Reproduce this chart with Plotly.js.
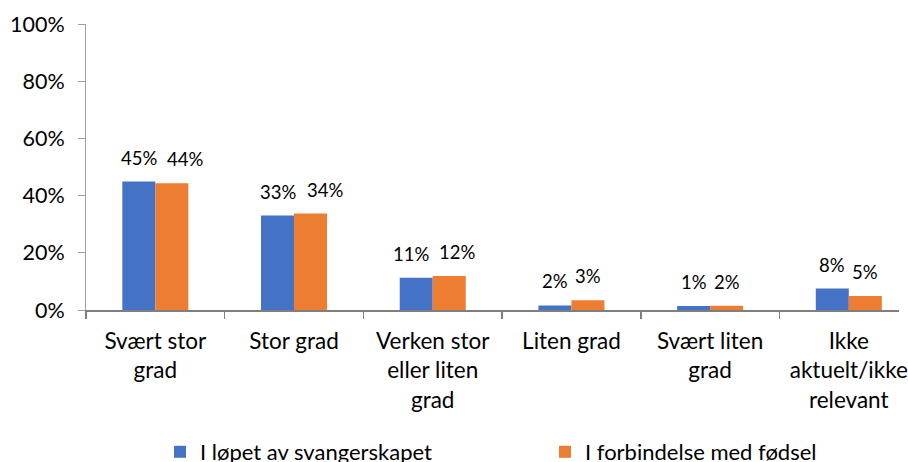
<!DOCTYPE html>
<html><head><meta charset="utf-8">
<script src="https://cdn.plot.ly/plotly-3.0.1.min.js"></script>
<style>html,body{margin:0;padding:0;background:#fff}#chart{width:908px;height:462px}</style>
</head><body><div id="chart"></div>
<script>
const categories = ["Svært stor<br>grad", "Stor grad", "Verken stor<br>eller liten<br>grad", "Liten grad", "Svært liten<br>grad", "Ikke<br>aktuelt/ikke<br>relevant"];
const seriesNames = ["I løpet av svangerskapet", "I forbindelse med fødsel"];
const pregnancy = [44.9, 33.0, 11.3, 1.6, 1.4, 7.5];
const birth = [44.3, 33.7, 11.9, 3.4, 1.5, 4.9];
const yTickVals = [0, 20, 40, 60, 80, 100];
const yTickText = ["0%", "20%", "40%", "60%", "80%", "100%"];
// label nudges (px) as in the original, where some labels sit off-centre
const pregLabelNudge = [0, 0, -5, 0, 0, 0];
const birthLabelNudge = [13, 14, 8, 0, 0, 0];

const colors = ["#4472C4", "#ED7D31"];
const font = "Lato, 'Open Sans', sans-serif";
const bargap = 0.524;
const bw = (1 - bargap) / 2;

const traces = [pregnancy, birth].map((vals, k) => ({
  type: "bar", name: seriesNames[k], x: categories, y: vals,
  marker: {color: colors[k], line: {width: 0}}, hoverinfo: "skip"
}));

const annotations = [];
[pregnancy, birth].forEach((vals, k) => {
  const nudge = k === 0 ? pregLabelNudge : birthLabelNudge;
  vals.forEach((v, i) => {
    annotations.push({
      x: i + (k === 0 ? -bw / 2 : bw / 2), y: v, xref: "x", yref: "y",
      text: Math.round(v) + "%", showarrow: false,
      xanchor: "center", yanchor: "middle", yshift: 24, xshift: nudge[i],
      font: {family: font, size: 18.5, color: "#000"}
    });
  });
});

const layout = {
  width: 908, height: 462,
  margin: {l: 86, r: 9, t: 24, b: 152, autoexpand: false},
  paper_bgcolor: "#fff", plot_bgcolor: "#fff",
  barmode: "group", bargap: bargap, bargroupgap: 0,
  font: {family: font, color: "#000"},
  xaxis: {
    type: "category", range: [-0.5, 5.362], fixedrange: true,
    showline: true, linecolor: "#7f7f7f", linewidth: 2,
    ticks: "outside", tickson: "boundaries", ticklen: 7, tickcolor: "#7f7f7f", tickwidth: 1.5,
    tickfont: {family: font, size: 22.5, color: "#000"}, showgrid: false, zeroline: false,
    ticklabelstandoff: 10
  },
  yaxis: {
    range: [0, 100], tickvals: yTickVals, ticktext: yTickText, fixedrange: true,
    showline: true, linecolor: "#a0a0a0", linewidth: 1,
    ticks: "outside", ticklen: 7, tickcolor: "#a0a0a0",
    tickfont: {family: font, size: 21.5, color: "#000"}, showgrid: false, zeroline: false,
    ticklabelstandoff: 9
  },
  showlegend: true,
  legend: {
    orientation: "h", x: (160 - 86) / 813, xanchor: "left", y: -0.4965, yanchor: "middle",
    font: {family: font, size: 22, color: "#000"}, entrywidth: 340, entrywidthmode: "pixels",
    bgcolor: "rgba(0,0,0,0)", itemclick: false, itemdoubleclick: false
  },
  annotations: annotations
};

Plotly.newPlot("chart", traces, layout, {displayModeBar: false, staticPlot: true});
</script></body></html>
